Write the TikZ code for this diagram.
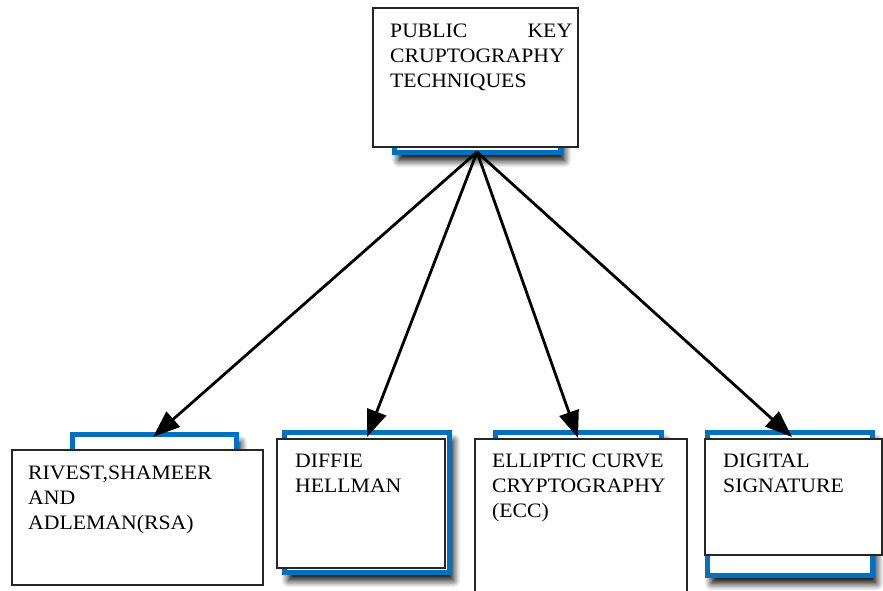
\documentclass[tikz,border=0pt]{standalone}
\usepackage{fontspec}
\setmainfont{Liberation Serif}[FakeStretch=1.06]
\usetikzlibrary{arrows.meta,shadows.blur}
\definecolor{frameblue}{RGB}{0,112,192}
\tikzset{
  backframe/.style={draw=frameblue, line width=5pt, fill=white,
    blur shadow={shadow xshift=4pt, shadow yshift=-8pt,
      shadow blur radius=7pt, shadow opacity=100, shadow blur steps=8}},
  frontbox/.style={draw=black!85, line width=1.4pt, fill=white},
  label/.style={anchor=north west, inner sep=0pt, align=left,
    font=\fontsize{20.5}{25}\selectfont},
  link/.style={line width=2.8pt, -{Triangle[length=27pt,width=20pt,fill=black]}}
}
\begin{document}
\begin{tikzpicture}[x=1pt,y=-1pt]
\useasboundingbox (0,0) rectangle (883,590);
\clip (0,0) rectangle (883,590);

% root box
\draw[backframe] (394.5,22) rectangle (560.5,152.5);
\draw[frontbox] (373,8) rectangle (578,147);
\node[label, text width=182pt] (root) at (390,24)
  {PUBLIC\hfill KEY\\CRUPTOGRAPHY\\TECHNIQUES};
\coordinate (hub) at (477,152);

% RSA
\draw[backframe] (72.5,434.5) rectangle (236.5,570);
\draw[frontbox] (12,450) rectangle (263,585);
\node[label] (rsa) at (28,466) {RIVEST,SHAMEER\\AND\\ADLEMAN(RSA)};
\coordinate (rsatop) at (153,437);

% Diffie-Hellman
\draw[backframe] (284.5,432.5) rectangle (449.5,572.5);
\draw[frontbox] (277,439) rectangle (445,568);
\node[label] (dh) at (295,454) {DIFFIE\\HELLMAN};
\coordinate (dhtop) at (367,437);

% ECC
\draw[backframe] (495.5,432.5) rectangle (661.5,600);
\draw[frontbox] (475,439) rectangle (687,600);
\node[label] (ecc) at (492,454) {ELLIPTIC CURVE\\CRYPTOGRAPHY\\(ECC)};
\coordinate (ecctop) at (578,438);

% Digital signature
\draw[backframe] (707.5,432.5) rectangle (872.5,575.5);
\draw[frontbox] (705,439) rectangle (882,555);
\node[label] (ds) at (723,454) {DIGITAL\\SIGNATURE};
\coordinate (dstop) at (792,437);

% connectors
\draw[link] (hub) -- (rsatop);
\draw[link] (hub) -- (dhtop);
\draw[link] (hub) -- (ecctop);
\draw[link] (hub) -- (dstop);
\end{tikzpicture}
\end{document}
